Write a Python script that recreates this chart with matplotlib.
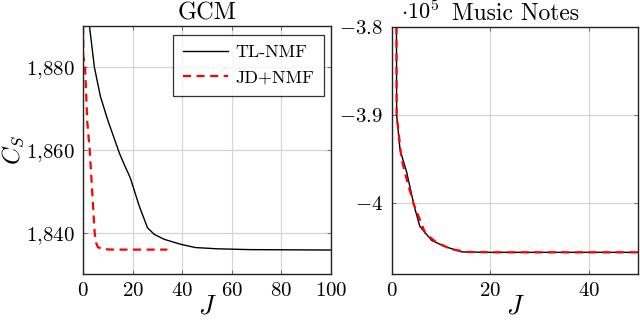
import matplotlib
matplotlib.use("Agg")
import matplotlib.pyplot as plt

plt.rcParams['font.family'] = 'serif'
plt.rcParams['font.serif'] = ['cmr10', 'DejaVu Serif']
plt.rcParams['mathtext.fontset'] = 'cm'
plt.rcParams['axes.formatter.use_mathtext'] = True

# ---- GCM data ----
gcm_tl_J = [0, 2.6, 4.6, 7, 10, 14.7, 16.7, 19.1, 22.7, 26, 28.7, 32.7, 39.3, 45.3, 54, 67, 100]
gcm_tl_C = [1905, 1890, 1880, 1873, 1867.2, 1859.2, 1856.4, 1853.2, 1846.4, 1841.2, 1839.6,
            1838.4, 1837.2, 1836.4, 1836.1, 1835.9, 1835.8]
gcm_jd_J = [0, 0.1, 0.8, 1.7, 2.7, 3.7, 4.7, 5.3, 6, 8, 12, 20, 34]
gcm_jd_C = [1900, 1882.6, 1880.6, 1867, 1860, 1850, 1840, 1837.5, 1836.5, 1836.0, 1835.9, 1835.9, 1835.9]

# ---- Music Notes data (x 1e5) ----
mn_tl_J = [0, 1, 1.7, 3, 4.6, 5.7, 8.1, 10.8, 14.2, 20, 30, 40, 50]
mn_tl_C = [-1.0, -3.9, -3.94, -3.964, -4.004, -4.026, -4.042, -4.049, -4.055, -4.0555, -4.0555, -4.0555, -4.0555]
mn_jd_J = [0, 1, 2, 3, 4.4, 6.8, 9, 12.1, 15.2, 20, 30, 40, 50]
mn_jd_C = [-1.0, -3.9, -3.95, -3.972, -4.0, -4.034, -4.044, -4.052, -4.055, -4.0555, -4.0555, -4.0555, -4.0555]

gcm_xticks = [0, 20, 40, 60, 80, 100]
gcm_yticks = [1840, 1860, 1880]
gcm_yticklabels = ['$1{,}840$', '$1{,}860$', '$1{,}880$']
mn_xticks = [0, 20, 40]
mn_yticks = [-4.0, -3.9, -3.8]
mn_yticklabels = ['$-4$', '$-3.9$', '$-3.8$']

W, H = 640, 323
fig = plt.figure(figsize=(6.4, 3.23), dpi=100)

def px_axes(l, t, r, b):
    return fig.add_axes([l / W, 1 - b / H, (r - l) / W, (b - t) / H])

ax1 = px_axes(83, 26, 331, 274)
ax2 = px_axes(391.7, 26.5, 638.3, 274)

red_kw = dict(color='#ff0000', lw=1.6, dashes=(3.6, 2.5))
blk_kw = dict(color='black', lw=1.0)

ax1.plot(gcm_tl_J, gcm_tl_C, label='TL-NMF', **blk_kw)
ax1.plot(gcm_jd_J, gcm_jd_C, label='JD+NMF', **red_kw)
ax2.plot(mn_tl_J, mn_tl_C, **blk_kw)
ax2.plot(mn_jd_J, mn_jd_C, **red_kw)

ax1.set_xlim(0, 100)
ax1.set_ylim(1830, 1890)
ax2.set_xlim(0, 50)
ax2.set_ylim(-4.08, -3.8)

ax1.set_xticks(gcm_xticks)
ax1.set_xticklabels([f'${v}$' for v in gcm_xticks])
ax1.set_yticks(gcm_yticks)
ax1.set_yticklabels(gcm_yticklabels)
ax2.set_xticks(mn_xticks)
ax2.set_xticklabels([f'${v}$' for v in mn_xticks])
ax2.set_yticks(mn_yticks)
ax2.set_yticklabels(mn_yticklabels)

for ax in (ax1, ax2):
    ax.grid(True, color='#d4d4d4', lw=0.9)
    ax.set_axisbelow(True)
    ax.tick_params(direction='in', length=3, width=0.6, top=True, right=True,
                   labelsize=15, pad=6, color='#555555')
    for s in ax.spines.values():
        s.set_linewidth(1.0)
        s.set_color('#222222')
    ax.set_xlabel('$J$', fontsize=19, labelpad=-4)

ax1.set_ylabel('$C_S$', fontsize=17.5)
ax1.yaxis.set_label_coords((26 - 83) / 248, 0.5)
ax1.set_title('GCM', fontsize=17.5, pad=5)
ax2.set_title('Music Notes', fontsize=17, pad=5)
fig.text(401 / W, 1 - 19 / H, r'$\cdot 10^5$', fontsize=16, ha='left', va='baseline')

leg = ax1.legend(loc='upper right', bbox_to_anchor=(0.972, 0.965), borderaxespad=0,
                 fontsize=13, frameon=True, fancybox=False, handlelength=2.5,
                 handletextpad=0.4, labelspacing=0.55, borderpad=0.55)
leg.get_frame().set_edgecolor('black')
leg.get_frame().set_linewidth(0.9)

fig.savefig('out.png', dpi=100)
